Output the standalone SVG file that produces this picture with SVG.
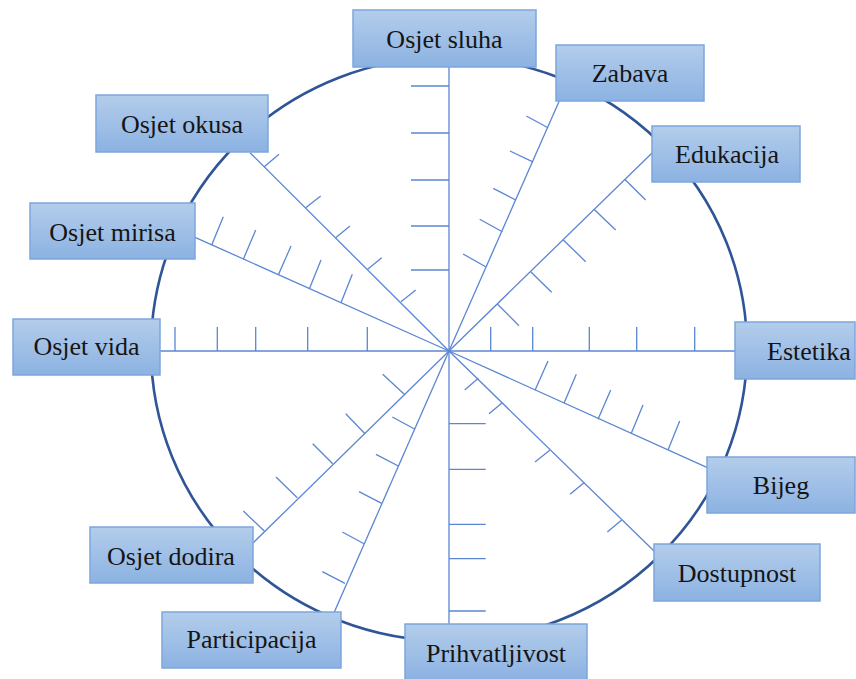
<svg xmlns="http://www.w3.org/2000/svg" width="856" height="679" viewBox="0 0 856 679">
<defs>
<linearGradient id="boxg" x1="0" y1="0" x2="0" y2="1">
<stop offset="0" stop-color="#b3cdeb"/>
<stop offset="1" stop-color="#8cb2e2"/>
</linearGradient>
</defs>
<style>
.ring{fill:none;stroke:#2f5597;stroke-width:2.6}
.sp line{stroke:#5b86d3;stroke-width:1.3;fill:none}
.tk line{stroke:#5b86d3;stroke-width:1.3;fill:none}
.box rect{fill:url(#boxg);stroke:#7da6dd;stroke-width:1.5}
.box text{font-family:"Liberation Serif","Times New Roman",serif;font-size:26px;fill:#151515;text-anchor:middle}
</style>
<rect width="856" height="679" fill="#ffffff"/>
<ellipse class="ring" cx="449" cy="349" rx="298" ry="292"/>
<g id="connectors" class="sp">
<line x1="449" y1="351" x2="449" y2="67"/>
<line x1="449" y1="351" x2="559.7" y2="100"/>
<line x1="449" y1="351" x2="652.3" y2="152.7"/>
<line x1="449" y1="351" x2="735" y2="351"/>
<line x1="449" y1="351" x2="707.3" y2="467.7"/>
<line x1="449" y1="351" x2="654" y2="551"/>
<line x1="449" y1="351" x2="449" y2="624"/>
<line x1="449" y1="351" x2="334" y2="612.7"/>
<line x1="449" y1="351" x2="253.3" y2="542.7"/>
<line x1="449" y1="351" x2="160" y2="351"/>
<line x1="449" y1="351" x2="195" y2="237.3"/>
<line x1="449" y1="351" x2="250" y2="152.7"/>
</g>
<g id="ticks" class="tk">
<line x1="449" y1="86" x2="411" y2="86"/>
<line x1="449" y1="133" x2="411" y2="133"/>
<line x1="449" y1="180" x2="411" y2="180"/>
<line x1="449" y1="226" x2="411" y2="226"/>
<line x1="449" y1="270" x2="411" y2="270"/>
<line x1="548" y1="127.7" x2="526.3" y2="116"/>
<line x1="532.3" y1="161.7" x2="510" y2="151"/>
<line x1="515.7" y1="200" x2="493.3" y2="188.3"/>
<line x1="502.3" y1="231.7" x2="479.7" y2="219.3"/>
<line x1="485.7" y1="266.7" x2="463" y2="254"/>
<line x1="624.7" y1="179.3" x2="645.7" y2="200"/>
<line x1="594" y1="209.3" x2="615.7" y2="230"/>
<line x1="563.3" y1="240" x2="585.7" y2="261.7"/>
<line x1="530.7" y1="271.7" x2="551.7" y2="292.3"/>
<line x1="497.3" y1="304" x2="519" y2="325.7"/>
<line x1="490.7" y1="351" x2="490.7" y2="327"/>
<line x1="532.7" y1="351" x2="532.7" y2="327"/>
<line x1="589.3" y1="351" x2="589.3" y2="327"/>
<line x1="636.7" y1="351" x2="636.7" y2="327"/>
<line x1="694.7" y1="351" x2="694.7" y2="327"/>
<line x1="535" y1="390.3" x2="548" y2="361"/>
<line x1="564" y1="403.3" x2="576.3" y2="374.3"/>
<line x1="598" y1="419.3" x2="610.7" y2="390"/>
<line x1="631.3" y1="433.3" x2="643" y2="405"/>
<line x1="668" y1="450" x2="679.7" y2="421"/>
<line x1="478.3" y1="378.3" x2="464.7" y2="390"/>
<line x1="502.3" y1="402.7" x2="489" y2="413.7"/>
<line x1="549.7" y1="450.3" x2="535" y2="462"/>
<line x1="584" y1="482.7" x2="570" y2="494.3"/>
<line x1="621.7" y1="520" x2="607.3" y2="532"/>
<line x1="449" y1="423.7" x2="485.7" y2="423.7"/>
<line x1="449" y1="469.3" x2="485.7" y2="469.3"/>
<line x1="449" y1="524.3" x2="485.7" y2="524.3"/>
<line x1="449" y1="558.7" x2="485.7" y2="558.7"/>
<line x1="449" y1="611" x2="485.7" y2="611"/>
<line x1="415" y1="429.3" x2="392.3" y2="417"/>
<line x1="398.3" y1="466" x2="376" y2="454.3"/>
<line x1="381.7" y1="503.3" x2="359" y2="491.7"/>
<line x1="364" y1="543.7" x2="342.3" y2="532"/>
<line x1="345" y1="583.3" x2="322.3" y2="571.7"/>
<line x1="404.3" y1="394.3" x2="382.7" y2="374.3"/>
<line x1="365" y1="433.7" x2="345.7" y2="413.7"/>
<line x1="332.7" y1="463.7" x2="312.7" y2="443.7"/>
<line x1="297.3" y1="497.7" x2="276" y2="477"/>
<line x1="264.3" y1="531" x2="243.3" y2="511"/>
<line x1="175" y1="351" x2="175" y2="327"/>
<line x1="217.3" y1="351" x2="217.3" y2="327"/>
<line x1="255.7" y1="351" x2="255.7" y2="327"/>
<line x1="307.7" y1="351" x2="307.7" y2="327"/>
<line x1="367.3" y1="351" x2="367.3" y2="327"/>
<line x1="211.7" y1="245" x2="223.3" y2="216.7"/>
<line x1="243.3" y1="259.3" x2="255.7" y2="230"/>
<line x1="278.3" y1="275" x2="291" y2="246"/>
<line x1="309.3" y1="289" x2="321" y2="260"/>
<line x1="341" y1="302.7" x2="352.3" y2="274.3"/>
<line x1="264.3" y1="166.7" x2="279" y2="154.3"/>
<line x1="305.7" y1="207.7" x2="320.7" y2="196"/>
<line x1="335.7" y1="237.7" x2="350" y2="226"/>
<line x1="367.7" y1="269.3" x2="381.7" y2="257.7"/>
<line x1="401" y1="301.7" x2="415.7" y2="290"/>
</g>
<g id="osjet-sluha" class="box"><rect x="353" y="10" width="183" height="57"/><text x="444.5" y="48">Osjet sluha</text></g>
<g id="zabava" class="box"><rect x="556" y="45" width="148" height="56"/><text x="630" y="82">Zabava</text></g>
<g id="edukacija" class="box"><rect x="652" y="126" width="148" height="56"/><text x="727" y="163">Edukacija</text></g>
<g id="estetika" class="box"><rect x="735" y="322" width="120" height="57"/><text x="809" y="360">Estetika</text></g>
<g id="bijeg" class="box"><rect x="707" y="457" width="148" height="56"/><text x="781" y="494">Bijeg</text></g>
<g id="dostupnost" class="box"><rect x="654" y="544" width="166" height="57"/><text x="737" y="582">Dostupnost</text></g>
<g id="prihvatljivost" class="box"><rect x="405" y="624" width="182" height="56"/><text x="496" y="662">Prihvatljivost</text></g>
<g id="participacija" class="box"><rect x="162" y="612" width="179" height="56"/><text x="251.5" y="648">Participacija</text></g>
<g id="osjet-dodira" class="box"><rect x="90" y="527" width="163" height="56"/><text x="171" y="565">Osjet dodira</text></g>
<g id="osjet-okusa" class="box"><rect x="96" y="95" width="172" height="57"/><text x="182" y="133">Osjet okusa</text></g>
<g id="osjet-mirisa" class="box"><rect x="30" y="203" width="165" height="56"/><text x="112.5" y="241">Osjet mirisa</text></g>
<g id="osjet-vida" class="box"><rect x="13" y="319" width="147" height="56"/><text x="86.5" y="355">Osjet vida</text></g>
</svg>
